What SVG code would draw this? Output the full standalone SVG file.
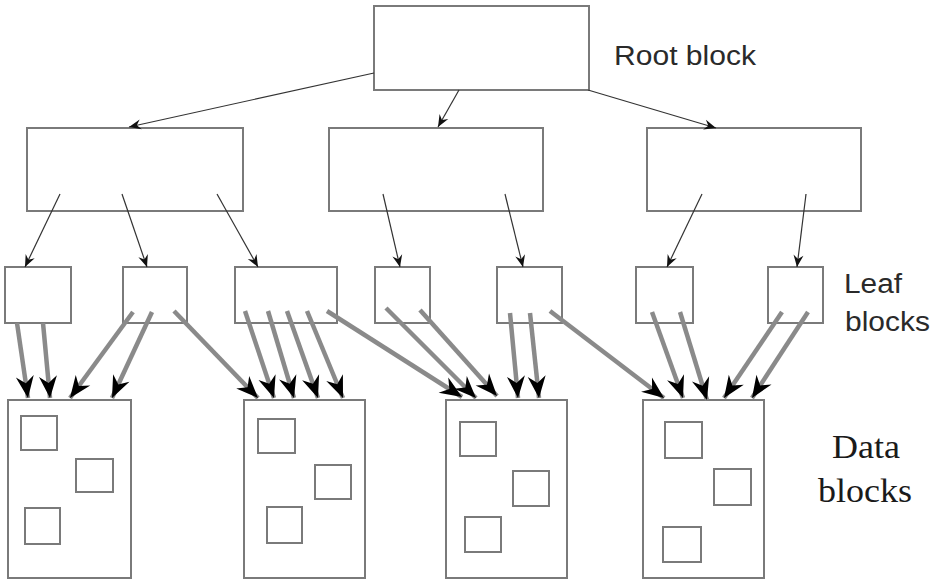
<svg xmlns="http://www.w3.org/2000/svg" width="937" height="581" viewBox="0 0 937 581">
<defs>
<style>
.box{fill:#fff;stroke:#7a7a7a;stroke-width:2}
.rec{fill:none;stroke:#7a7a7a;stroke-width:2}
.thin{stroke:#333;stroke-width:1.2;fill:none;marker-end:url(#sm)}
.thick{stroke:#8a8a8a;stroke-width:4.5;fill:none;marker-end:url(#big)}
.sans{font-family:"Liberation Sans",Arial,sans-serif;font-size:27px;fill:#2a2a2a}
.serif{font-family:"Liberation Serif","Times New Roman",serif;font-size:33px;fill:#1a1a1a}
</style>
<marker id="sm" markerUnits="userSpaceOnUse" markerWidth="16" markerHeight="16" viewBox="-14 -7 16 14" refX="0" refY="0" orient="auto">
<path d="M0,0 L-12,-5 L-8,0 L-12,5 Z" fill="#111"/>
</marker>
<marker id="big" markerUnits="userSpaceOnUse" markerWidth="28" markerHeight="22" viewBox="-24 -11 26 22" refX="0" refY="0" orient="auto">
<path d="M0,0 L-22,-9 L-15,0 L-22,9 Z" fill="#000"/>
</marker>
</defs>
<rect width="937" height="581" fill="#fff"/>

<g id="root"><rect class="box" x="374" y="6" width="215" height="84"/></g>
<g id="mid1"><rect class="box" x="27" y="128" width="216" height="83"/></g>
<g id="mid2"><rect class="box" x="329" y="128" width="214" height="83"/></g>
<g id="mid3"><rect class="box" x="647" y="128" width="214" height="83"/></g>

<g id="leaf1"><rect class="box" x="5" y="267" width="66" height="56"/></g>
<g id="leaf2"><rect class="box" x="123" y="267" width="64" height="56"/></g>
<g id="leaf3"><rect class="box" x="235" y="267" width="102" height="56"/></g>
<g id="leaf4"><rect class="box" x="375" y="267" width="55" height="56"/></g>
<g id="leaf5"><rect class="box" x="497" y="267" width="65" height="56"/></g>
<g id="leaf6"><rect class="box" x="636" y="267" width="57" height="56"/></g>
<g id="leaf7"><rect class="box" x="768" y="267" width="55" height="56"/></g>

<g id="data1"><rect class="box" x="8" y="400" width="123" height="178"/>
<rect class="rec" x="21" y="416" width="36" height="34"/><rect class="rec" x="76" y="459" width="37" height="33"/><rect class="rec" x="25" y="508" width="35" height="36"/></g>
<g id="data2"><rect class="box" x="244" y="400" width="121" height="178"/>
<rect class="rec" x="258" y="419" width="37" height="34"/><rect class="rec" x="315" y="465" width="36" height="34"/><rect class="rec" x="267" y="507" width="35" height="36"/></g>
<g id="data3"><rect class="box" x="446" y="400" width="121" height="178"/>
<rect class="rec" x="460" y="422" width="36" height="34"/><rect class="rec" x="513" y="471" width="36" height="35"/><rect class="rec" x="465" y="517" width="36" height="35"/></g>
<g id="data4"><rect class="box" x="643" y="400" width="121" height="178"/>
<rect class="rec" x="665" y="422" width="37" height="36"/><rect class="rec" x="714" y="469" width="37" height="36"/><rect class="rec" x="663" y="527" width="38" height="35"/></g>

<g id="connectors">
<line class="thin" x1="374" y1="73" x2="129" y2="127"/>
<line class="thin" x1="459" y1="90" x2="438" y2="127"/>
<line class="thin" x1="588" y1="90" x2="716" y2="128"/>
<line class="thin" x1="60" y1="194" x2="25" y2="267"/>
<line class="thin" x1="122" y1="194" x2="147" y2="267"/>
<line class="thin" x1="217" y1="194" x2="258" y2="267"/>
<line class="thin" x1="383" y1="194" x2="400" y2="267"/>
<line class="thin" x1="505" y1="194" x2="523" y2="267"/>
<line class="thin" x1="702" y1="194" x2="667" y2="267"/>
<line class="thin" x1="806" y1="194" x2="797" y2="267"/>

<line class="thick" x1="17" y1="323" x2="28" y2="398"/>
<line class="thick" x1="43" y1="323" x2="50" y2="398"/>
<line class="thick" x1="133" y1="312" x2="70" y2="398"/>
<line class="thick" x1="152" y1="312" x2="112" y2="398"/>
<line class="thick" x1="174" y1="311" x2="258" y2="398"/>
<line class="thick" x1="245" y1="311" x2="274" y2="398"/>
<line class="thick" x1="268" y1="311" x2="294" y2="398"/>
<line class="thick" x1="287" y1="311" x2="318" y2="398"/>
<line class="thick" x1="307" y1="311" x2="343" y2="398"/>
<line class="thick" x1="327" y1="311" x2="462" y2="397"/>
<line class="thick" x1="386" y1="308" x2="476" y2="398"/>
<line class="thick" x1="420" y1="310" x2="497" y2="396"/>
<line class="thick" x1="510" y1="313" x2="518" y2="398"/>
<line class="thick" x1="530" y1="313" x2="539" y2="398"/>
<line class="thick" x1="550" y1="311" x2="664" y2="398"/>
<line class="thick" x1="652" y1="312" x2="683" y2="398"/>
<line class="thick" x1="680" y1="312" x2="707" y2="400"/>
<line class="thick" x1="782" y1="312" x2="724" y2="398"/>
<line class="thick" x1="808" y1="312" x2="752" y2="398"/>
</g>

<text class="sans" x="614" y="65" textLength="142" lengthAdjust="spacingAndGlyphs">Root block</text>
<text class="sans" x="844" y="293" textLength="58" lengthAdjust="spacingAndGlyphs">Leaf</text>
<text class="sans" x="845" y="331" textLength="85" lengthAdjust="spacingAndGlyphs">blocks</text>
<text class="serif" x="832" y="458" textLength="68" lengthAdjust="spacingAndGlyphs">Data</text>
<text class="serif" x="818" y="502" textLength="94" lengthAdjust="spacingAndGlyphs">blocks</text>
</svg>
